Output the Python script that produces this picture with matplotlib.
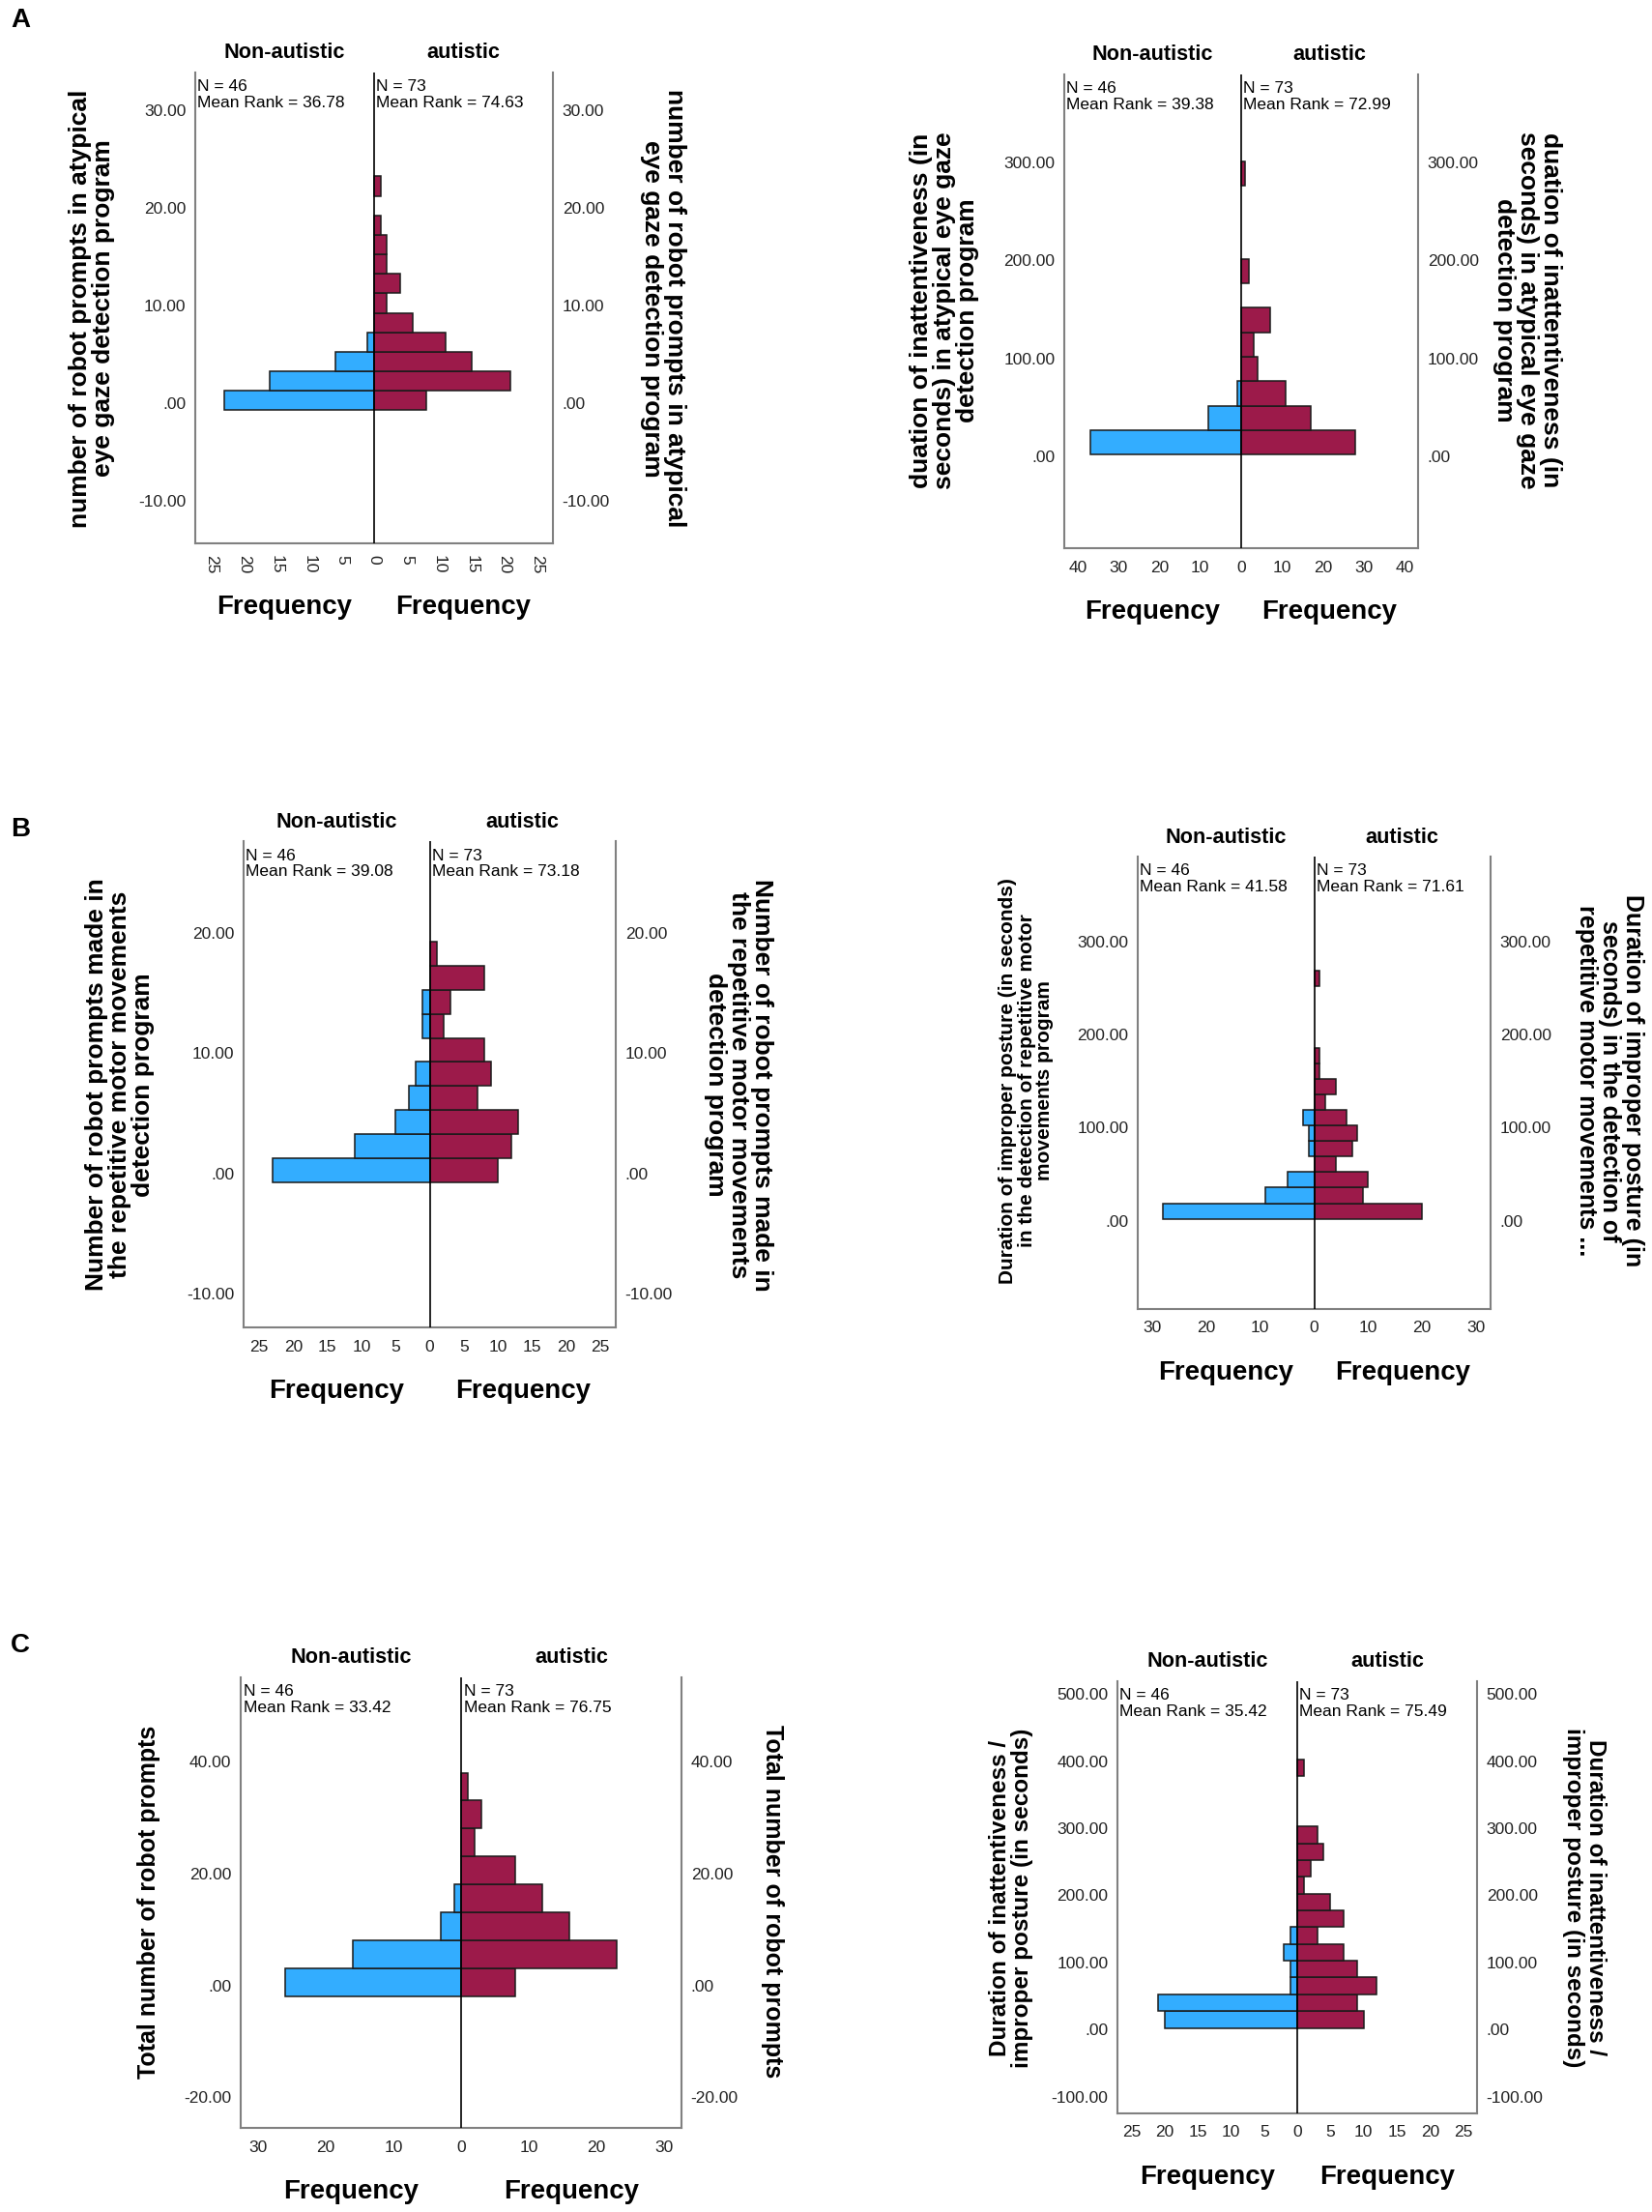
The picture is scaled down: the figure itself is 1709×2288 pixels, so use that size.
import matplotlib
matplotlib.use("Agg")
import matplotlib.pyplot as plt
import numpy as np

W, H = 1709, 2288
plt.rcParams['font.family'] = ['Liberation Sans', 'DejaVu Sans']

BLUE = '#33adff'
RED = '#9c1a4a'

# ---- data (histogram counts per bin, bottom bin first)
# A left: robot prompts, atypical eye gaze program
a1_start, a1_width = -0.75, 2
a1_non = [23, 16, 6, 1]
a1_aut = [8, 21, 15, 11, 6, 2, 4, 2, 2, 1, 0, 1]
a1_stats = ["N = 46\nMean Rank = 36.78", "N = 73\nMean Rank = 74.63"]
a1_yticks = [-10, 0, 10, 20, 30]
a1_xticks = [0, 5, 10, 15, 20, 25]

# A right: duration of inattentiveness, eye gaze program
a2_start, a2_width = 1.5, 25
a2_non = [37, 8, 1]
a2_aut = [28, 17, 11, 4, 3, 7, 0, 2, 0, 0, 0, 1]
a2_stats = ["N = 46\nMean Rank = 39.38", "N = 73\nMean Rank = 72.99"]
a2_yticks = [0, 100, 200, 300]
a2_xticks = [0, 10, 20, 30, 40]

# B left: robot prompts, repetitive motor movements program
b1_start, b1_width = -0.75, 2
b1_non = [23, 11, 5, 3, 2, 0, 1, 1]
b1_aut = [10, 12, 13, 7, 9, 8, 2, 3, 8, 1]
b1_stats = ["N = 46\nMean Rank = 39.08", "N = 73\nMean Rank = 73.18"]
b1_yticks = [-10, 0, 10, 20]
b1_xticks = [0, 5, 10, 15, 20, 25]

# B right: duration of improper posture
b2_start, b2_width = 2, 16.67
b2_non = [28, 9, 5, 0, 1, 1, 2]
b2_aut = [20, 9, 10, 4, 7, 8, 6, 2, 4, 1, 1, 0, 0, 0, 0, 1]
b2_stats = ["N = 46\nMean Rank = 41.58", "N = 73\nMean Rank = 71.61"]
b2_yticks = [0, 100, 200, 300]
b2_xticks = [0, 10, 20, 30]

# C left: total number of robot prompts
c1_start, c1_width = -1.95, 5
c1_non = [26, 16, 3, 1]
c1_aut = [8, 23, 16, 12, 8, 2, 3, 1]
c1_stats = ["N = 46\nMean Rank = 33.42", "N = 73\nMean Rank = 76.75"]
c1_yticks = [-20, 0, 20, 40]
c1_xticks = [0, 10, 20, 30]

# C right: total duration of inattentiveness / improper posture
c2_start, c2_width = 2.5, 25
c2_non = [20, 21, 1, 1, 2, 1]
c2_aut = [10, 9, 12, 9, 7, 3, 7, 5, 1, 2, 4, 3, 0, 0, 0, 1]
c2_stats = ["N = 46\nMean Rank = 35.42", "N = 73\nMean Rank = 75.49"]
c2_yticks = [-100, 0, 100, 200, 300, 400, 500]
c2_xticks = [0, 5, 10, 15, 20, 25]

a1_label = "number of robot prompts in atypical\neye gaze detection program"
a2_label = "duation of inattentiveness (in\nseconds) in atypical eye gaze\ndetection program"
b1_label = "Number of robot prompts made in\nthe repetitive motor movements\ndetection program"
b2_label_l = "Duration of improper posture (in seconds)\nin the detection of repetitive motor\nmovements program"
b2_label_r = "Duration of improper posture (in\nseconds) in the detection of\nrepetitive motor movements ..."
c1_label = "Total number of robot prompts"
c2_label = "Duration of inattentiveness /\nimproper posture (in seconds)"


def fmt(v):
    s = "%.2f" % v
    return s[1:] if s.startswith("0") else s


fig = plt.figure(figsize=(W / 100, H / 100), dpi=100)


def panel(box, start, width, non, aut, ylim, yticks, xmax, xticks, stats,
          lab_l, lab_r, lab_pos, lab_size=19, lab_size_r=None, rot=0):
    l, r, t, b = box
    ax = fig.add_axes([l / W, 1 - b / H, (r - l) / W, (b - t) / H])
    non = np.array(non)
    aut = np.array(aut)
    y_non = start + width * np.arange(len(non))
    y_aut = start + width * np.arange(len(aut))
    m = non > 0
    ax.barh(y_non[m], -non[m], height=width, align='edge', color=BLUE,
            edgecolor='#1a1a1a', linewidth=1.1, zorder=2)
    m = aut > 0
    ax.barh(y_aut[m], aut[m], height=width, align='edge', color=RED,
            edgecolor='#1a1a1a', linewidth=1.1, zorder=2)
    ax.axvline(0, color='black', lw=1.2, zorder=3)
    ax.set_xlim(-xmax, xmax)
    ax.set_ylim(*ylim)
    ax.spines['top'].set_visible(False)
    for s in ['left', 'right', 'bottom']:
        ax.spines[s].set_color('#808080')
        ax.spines[s].set_linewidth(1.5)
    ax.set_yticks(yticks)
    ax.set_yticklabels([fmt(v) for v in yticks])
    ax.tick_params(axis='y', length=0, labelleft=True, labelright=True,
                   pad=7, labelsize=12.5, labelcolor='#222222')
    xt = sorted(set([-v for v in xticks] + xticks))
    ax.set_xticks(xt)
    ax.set_xticklabels([str(abs(v)) for v in xt], rotation=rot)
    ax.tick_params(axis='x', length=0, pad=9, labelsize=12.5,
                   labelcolor='#222222')
    ax.text(0.006, 0.985, stats[0], transform=ax.transAxes, va='top',
            ha='left', fontsize=12.5, linespacing=1.15)
    ax.text(0.506, 0.985, stats[1], transform=ax.transAxes, va='top',
            ha='left', fontsize=12.5, linespacing=1.15)
    qx = [l + (r - l) * 0.25, l + (r - l) * 0.75]
    for x, txt in zip(qx, ["Non-autistic", "autistic"]):
        fig.text(x / W, 1 - (t - 20) / H, txt, ha='center', va='center',
                 fontsize=15.6, fontweight='bold')
        fig.text(x / W, 1 - (b + 66) / H, "Frequency", ha='center',
                 va='center', fontsize=19.9, fontweight='bold')
    xl, xr, yc = lab_pos
    fig.text(xl / W, 1 - yc / H, lab_l, rotation=90, ha='center',
             va='center', fontsize=lab_size, fontweight='bold',
             multialignment='center', linespacing=1.0)
    fig.text(xr / W, 1 - yc / H, lab_r, rotation=270, ha='center',
             va='center', fontsize=lab_size_r or lab_size, fontweight='bold',
             multialignment='center', linespacing=1.0)
    return ax


panel((202, 572, 75, 562), a1_start, a1_width, a1_non, a1_aut,
      (-14.4, 33.9), a1_yticks, 27.5, a1_xticks, a1_stats,
      a1_label, a1_label, (95, 686, 319), rot=-90)
panel((1101, 1467, 77, 567), a2_start, a2_width, a2_non, a2_aut,
      (-94, 390), a2_yticks, 43.3, a2_xticks, a2_stats,
      a2_label, a2_label, (977, 1580, 321))
panel((252, 637, 870, 1373), b1_start, b1_width, b1_non, b1_aut,
      (-12.8, 27.6), b1_yticks, 27.3, b1_xticks, b1_stats,
      b1_label, b1_label, (124, 764, 1122))
panel((1177, 1542, 886, 1354), b2_start, b2_width, b2_non, b2_aut,
      (-95, 391), b2_yticks, 32.7, b2_xticks, b2_stats,
      b2_label_l, b2_label_r, (1062, 1665, 1118), lab_size=15, lab_size_r=18)
panel((249, 705, 1735, 2201), c1_start, c1_width, c1_non, c1_aut,
      (-25.5, 55.1), c1_yticks, 32.6, c1_xticks, c1_stats,
      c1_label, c1_label, (154, 799, 1967), lab_size=18)
panel((1156, 1528, 1739, 2186), c2_start, c2_width, c2_non, c2_aut,
      (-125, 519), c2_yticks, 27.1, c2_xticks, c2_stats,
      c2_label, c2_label, (1046, 1639, 1963), lab_size=17.5)

for txt, y in [("A", 21), ("B", 858), ("C", 1702)]:
    fig.text(21 / W, 1 - y / H, txt, ha='center', va='center',
             fontsize=20, fontweight='bold')

fig.savefig("out.png", dpi=100, facecolor='white')
